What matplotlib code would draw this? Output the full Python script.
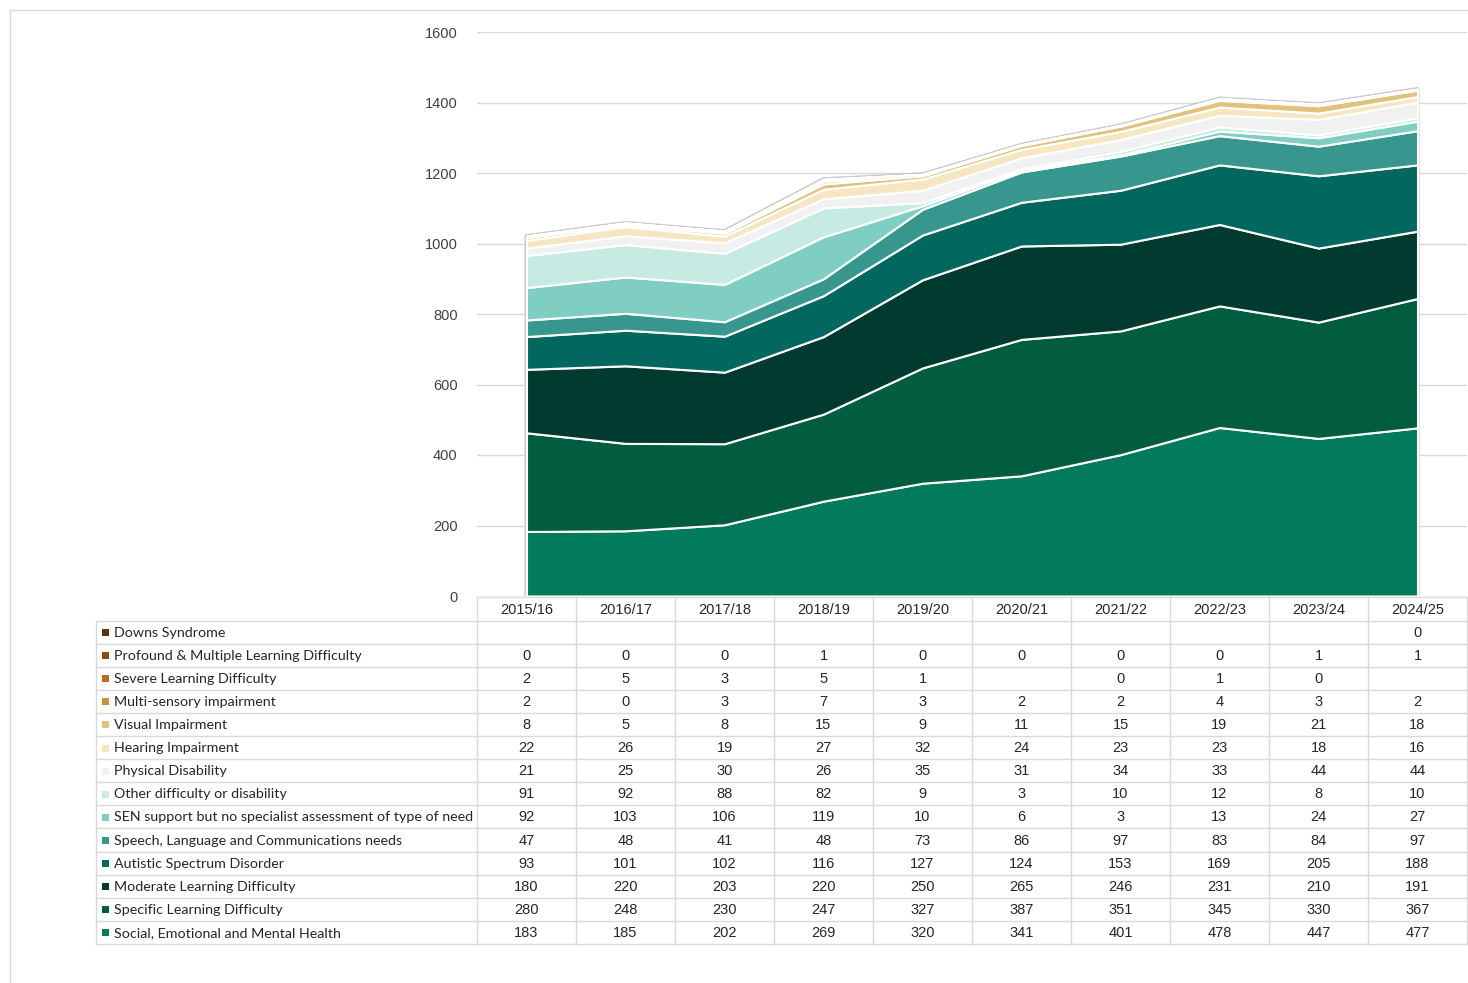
import numpy as np
import matplotlib
matplotlib.use("Agg")
import matplotlib.pyplot as plt
from matplotlib.transforms import blended_transform_factory

# ---- data -------------------------------------------------------------
years = ["2015/16", "2016/17", "2017/18", "2018/19", "2019/20",
         "2020/21", "2021/22", "2022/23", "2023/24", "2024/25"]

nan = np.nan
semh = [183, 185, 202, 269, 320, 341, 401, 478, 447, 477]
specific = [280, 248, 230, 247, 327, 387, 351, 345, 330, 367]
moderate = [180, 220, 203, 220, 250, 265, 246, 231, 210, 191]
autistic = [93, 101, 102, 116, 127, 124, 153, 169, 205, 188]
speech = [47, 48, 41, 48, 73, 86, 97, 83, 84, 97]
sen_support = [92, 103, 106, 119, 10, 6, 3, 13, 24, 27]
other = [91, 92, 88, 82, 9, 3, 10, 12, 8, 10]
physical = [21, 25, 30, 26, 35, 31, 34, 33, 44, 44]
hearing = [22, 26, 19, 27, 32, 24, 23, 23, 18, 16]
visual = [8, 5, 8, 15, 9, 11, 15, 19, 21, 18]
multi_sensory = [2, 0, 3, 7, 3, 2, 2, 4, 3, 2]
severe = [2, 5, 3, 5, 1, nan, 0, 1, 0, nan]
profound = [0, 0, 0, 1, 0, 0, 0, 0, 1, 1]
downs = [nan, nan, nan, nan, nan, nan, nan, nan, nan, 0]

series_names = [
    "Social, Emotional and Mental Health",
    "Specific Learning Difficulty",
    "Moderate Learning Difficulty",
    "Autistic Spectrum Disorder",
    "Speech, Language and Communications needs",
    "SEN support but no specialist assessment of type of need",
    "Other difficulty or disability",
    "Physical Disability",
    "Hearing Impairment",
    "Visual Impairment",
    "Multi-sensory impairment",
    "Severe Learning Difficulty",
    "Profound & Multiple Learning Difficulty",
    "Downs Syndrome",
]
series_values = [semh, specific, moderate, autistic, speech, sen_support,
                 other, physical, hearing, visual, multi_sensory, severe,
                 profound, downs]
colors = ["#017b5b", "#025c40", "#013a2f", "#02675f", "#37978e", "#80cec1",
          "#c7eae3", "#f1f1f1", "#f6e6c1", "#e0c27c", "#c8913f", "#b06f2a",
          "#8a4c18", "#5a3313"]

W, H = 1468, 983
fig = plt.figure(figsize=(W / 100, H / 100), dpi=100)

def fx(px):
    return px / W

def fy(py):
    return 1 - py / H

# ---- main area chart -------------------------------------------------
ax_left, ax_right, ax_top, ax_bot = 477, 1467, 32, 596
ax = fig.add_axes([fx(ax_left), fy(ax_bot), fx(ax_right - ax_left),
                   (ax_bot - ax_top) / H])
x = np.arange(len(years))
ax.set_xlim(-0.5, len(years) - 0.5)
ax.set_ylim(0, 1600)
ax.set_yticks(np.arange(0, 1601, 200))
ax.grid(axis="y", color="#d9d9d9", linewidth=1)
ax.set_axisbelow(True)
for s in ax.spines.values():
    s.set_visible(False)
ax.tick_params(axis="y", length=0, pad=14, labelsize=10.5, labelcolor="#404040")
ax.tick_params(axis="x", length=0, labelbottom=False)
for lab in ax.get_yticklabels():
    lab.set_fontfamily("Liberation Sans")

vals = [np.nan_to_num(np.array(v, dtype=float)) for v in series_values]
total = np.sum(vals, axis=0)
# soft grey outline round the whole stack
ax.fill_between(x, 0, total, facecolor="none", edgecolor="#bdbdbd",
                linewidth=3.0, zorder=2, alpha=0.8)
base = np.zeros(len(years))
for v, c in zip(vals, colors):
    ax.fill_between(x, base, base + v, facecolor=c, edgecolor="white",
                    linewidth=1.5, zorder=3)
    base = base + v

# ---- overlay for table and frame (pixel coordinates) -----------------
ov = fig.add_axes([0, 0, 1, 1], zorder=5)
ov.set_xlim(0, W)
ov.set_ylim(H, 0)
ov.axis("off")
ov.patch.set_alpha(0)

grid_c = "#d9d9d9"
# outer chart frame
ov.plot([10, 10], [10, H], color=grid_c, lw=1)
ov.plot([10, W], [10, 10], color=grid_c, lw=1)

bt = blended_transform_factory(ax.transData, ov.transData)
head_top, head_bot = 597, 620.5
n_rows = len(series_names)
row_h = (944 - head_bot) / n_rows
tab_left = 96

# column separators
for k in range(len(years) + 1):
    ov.plot([k - 0.5, k - 0.5], [head_top, 944], color=grid_c, lw=1,
            transform=bt)
ov.plot([-0.5, len(years) - 0.5], [head_top, head_top], color=grid_c, lw=1,
        transform=bt)
ov.plot([tab_left, tab_left], [head_bot, 944], color=grid_c, lw=1)
for r in range(n_rows + 1):
    yy = head_bot + r * row_h
    ov.plot([tab_left, ax_right], [yy, yy], color=grid_c, lw=1)

num_font = dict(fontfamily="Liberation Sans", fontsize=10.5, color="#262626")
for i, yr in enumerate(years):
    ov.text(i, (head_top + head_bot) / 2 + 1, yr, ha="center", va="center",
            transform=bt, **num_font)

for r, idx in enumerate(range(n_rows - 1, -1, -1)):
    yc = head_bot + (r + 0.5) * row_h + 0.5
    ov.add_patch(plt.Rectangle((102, yc - 3.5), 7, 7, color=colors[idx],
                               lw=0))
    ov.text(114, yc, series_names[idx], ha="left", va="center",
            fontfamily="Lato", fontsize=10.25, color="#262626")
    for i, v in enumerate(series_values[idx]):
        if not np.isnan(v):
            ov.text(i, yc, f"{int(v)}", ha="center", va="center",
                    transform=bt, **num_font)

fig.savefig("out.png", dpi=100)
